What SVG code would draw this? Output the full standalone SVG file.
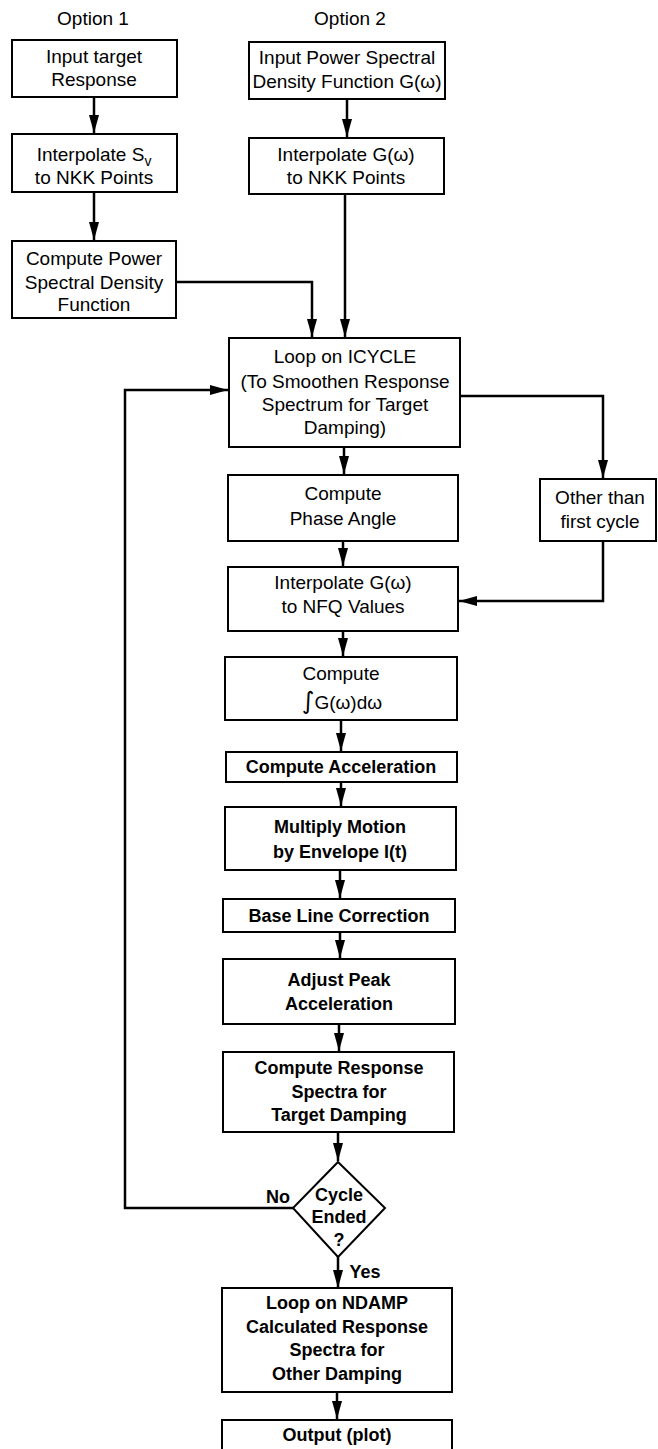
<svg xmlns="http://www.w3.org/2000/svg" width="658" height="1449" viewBox="0 0 658 1449">
<style>
.box{fill:#fff;stroke:#000;stroke-width:2}
.t{font-family:"Liberation Sans",Arial,Helvetica,sans-serif;font-size:19px;fill:#000;text-anchor:middle}
.b{font-family:"Liberation Sans",Arial,Helvetica,sans-serif;font-size:18px;font-weight:bold;fill:#000;text-anchor:middle}
.c{fill:none;stroke:#000;stroke-width:2.5}
</style>
<defs>
<marker id="ah" markerUnits="userSpaceOnUse" markerWidth="19" markerHeight="11" refX="18" refY="5" orient="auto">
<path d="M0,0 L18,5 L0,10 z" fill="#000"/>
</marker>
</defs>
<rect width="658" height="1449" fill="#fff"/>
<g id="labels">
<text class="t" x="93" y="25">Option 1</text>
<text class="t" x="350" y="25">Option 2</text>
</g>
<g id="connectors">
<path class="c" d="M94,97 V133" marker-end="url(#ah)"/>
<path class="c" d="M94,192 V240" marker-end="url(#ah)"/>
<path class="c" d="M347,99 V137" marker-end="url(#ah)"/>
<path class="c" d="M176,282 H312 V337" marker-end="url(#ah)"/>
<path class="c" d="M345,194 V337" marker-end="url(#ah)"/>
<path class="c" d="M344,447 V474" marker-end="url(#ah)"/>
<path class="c" d="M460,396 H603 V478" marker-end="url(#ah)"/>
<path class="c" d="M603,541 V601 H459" marker-end="url(#ah)"/>
<path class="c" d="M343,541 V566" marker-end="url(#ah)"/>
<path class="c" d="M343,631 V656" marker-end="url(#ah)"/>
<path class="c" d="M341,720 V751" marker-end="url(#ah)"/>
<path class="c" d="M341,782 V806" marker-end="url(#ah)"/>
<path class="c" d="M340,870 V898" marker-end="url(#ah)"/>
<path class="c" d="M340,932 V958" marker-end="url(#ah)"/>
<path class="c" d="M339,1024 V1051" marker-end="url(#ah)"/>
<path class="c" d="M338,1132 V1161" marker-end="url(#ah)"/>
<path class="c" d="M293,1208 H125 V390 H228" marker-end="url(#ah)"/>
<path class="c" d="M338,1256 V1288" marker-end="url(#ah)"/>
<path class="c" d="M337,1392 V1419" marker-end="url(#ah)"/>
</g>
<g id="n-input-target">
<rect class="box" x="12" y="40" width="165" height="57"/>
<text class="t" x="94" y="63">Input target</text>
<text class="t" x="94" y="86">Response</text>
</g>
<g id="n-interp-sv">
<rect class="box" x="12" y="134" width="165" height="58"/>
<text class="t" x="94" y="161">Interpolate S<tspan font-size="14" dy="5">v</tspan></text>
<text class="t" x="94" y="184">to NKK Points</text>
</g>
<g id="n-compute-psd">
<rect class="box" x="12" y="241" width="164" height="77"/>
<text class="t" x="94" y="265">Compute Power</text>
<text class="t" x="94" y="289">Spectral Density</text>
<text class="t" x="94" y="311">Function</text>
</g>
<g id="n-input-psd">
<rect class="box" x="249" y="42" width="196" height="57"/>
<text class="t" x="347" y="64">Input Power Spectral</text>
<text class="t" x="347" y="88">Density Function G(ω)</text>
</g>
<g id="n-interp-g">
<rect class="box" x="249" y="138" width="195" height="56"/>
<text class="t" x="346" y="161">Interpolate G(ω)</text>
<text class="t" x="346" y="184">to NKK Points</text>
</g>
<g id="n-loop-icycle">
<rect class="box" x="229" y="338" width="231" height="109"/>
<text class="t" x="345" y="363">Loop on ICYCLE</text>
<text class="t" x="345" y="388">(To Smoothen Response</text>
<text class="t" x="345" y="411">Spectrum for Target</text>
<text class="t" x="345" y="434">Damping)</text>
</g>
<g id="n-other">
<rect class="box" x="540" y="479" width="116" height="62"/>
<text class="t" x="600" y="504">Other than</text>
<text class="t" x="600" y="528">first cycle</text>
</g>
<g id="n-phase">
<rect class="box" x="228" y="475" width="230" height="66"/>
<text class="t" x="343" y="500">Compute</text>
<text class="t" x="343" y="525">Phase Angle</text>
</g>
<g id="n-interp-nfq">
<rect class="box" x="228" y="567" width="230" height="64"/>
<text class="t" x="343" y="589">Interpolate G(ω)</text>
<text class="t" x="343" y="613">to NFQ Values</text>
</g>
<g id="n-integral">
<rect class="box" x="225" y="657" width="232" height="63"/>
<text class="t" x="341" y="680">Compute</text>
<text class="t" x="342" y="709"><tspan font-family="DejaVu Sans, sans-serif" font-size="24">∫</tspan>G(ω)dω</text>
</g>
<g id="n-accel">
<rect class="box" x="226" y="752" width="231" height="30"/>
<text class="b" x="341" y="773">Compute Acceleration</text>
</g>
<g id="n-envelope">
<rect class="box" x="225" y="807" width="231" height="63"/>
<text class="b" x="340" y="833">Multiply Motion</text>
<text class="b" x="340" y="858">by Envelope I(t)</text>
</g>
<g id="n-baseline">
<rect class="box" x="223" y="899" width="232" height="33"/>
<text class="b" x="339" y="922">Base Line Correction</text>
</g>
<g id="n-peak">
<rect class="box" x="223" y="959" width="232" height="65"/>
<text class="b" x="339" y="986">Adjust Peak</text>
<text class="b" x="339" y="1010">Acceleration</text>
</g>
<g id="n-response">
<rect class="box" x="223" y="1052" width="231" height="80"/>
<text class="b" x="339" y="1074">Compute Response</text>
<text class="b" x="339" y="1098">Spectra for</text>
<text class="b" x="339" y="1121">Target Damping</text>
</g>
<g id="n-decision">
<polygon class="box" points="338,1162 385,1208 338,1257 293,1208"/>
<text class="b" x="339" y="1201">Cycle</text>
<text class="b" x="339" y="1223">Ended</text>
<text class="b" x="339" y="1246">?</text>
<text class="b" x="278" y="1203">No</text>
<text class="b" x="365" y="1278">Yes</text>
</g>
<g id="n-ndamp">
<rect class="box" x="222" y="1288" width="230" height="104"/>
<text class="b" x="337" y="1309">Loop on NDAMP</text>
<text class="b" x="337" y="1333">Calculated Response</text>
<text class="b" x="337" y="1356">Spectra for</text>
<text class="b" x="337" y="1380">Other Damping</text>
</g>
<g id="n-output">
<rect class="box" x="222" y="1420" width="230" height="40"/>
<text class="b" x="337" y="1441">Output (plot)</text>
</g>
</svg>
